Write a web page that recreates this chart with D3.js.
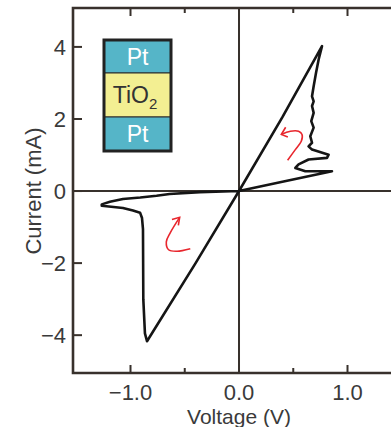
<!DOCTYPE html>
<html>
<head>
<meta charset="utf-8">
<script src="https://cdn.jsdelivr.net/npm/d3@7"></script>
<style>
  html, body { margin: 0; padding: 0; background: #fff; }
  svg { display: block; }
  text { font-family: "Liberation Sans", Arial, sans-serif; fill: #3a3a3a; }
</style>
</head>
<body>
<div id="chart"></div>
<script>
// I-V loop of a Pt/TiO2/Pt cell (voltage in V, current in mA)
var voltage = [0, -0.36, -0.64, -0.76, -0.91, -1.07, -1.19, -1.265,
  -1.265, -1.07, -0.977, -0.912, -0.894, -0.885, -0.882, -0.867, -0.848,
  -0.4, 0, 0.4, 0.765,
  0.734, 0.71, 0.688, 0.673, 0.688, 0.673, 0.688, 0.666, 0.688, 0.657, 0.673, 0.641, 0.673,
  0.826, 0.811, 0.641, 0.549, 0.519, 0.611, 0.857, 0.4, 0];
var current = [0, -0.03, -0.08, -0.13, -0.18, -0.22, -0.30, -0.37,
  -0.41, -0.47, -0.54, -0.60, -0.75, -1.06, -3.0, -3.95, -4.17,
  -2.0, 0, 2.05, 4.02,
  3.65, 3.28, 2.91, 2.63, 2.49, 2.36, 2.17, 1.94, 1.76, 1.52, 1.34, 1.24, 1.15,
  1.01, 0.92, 0.875, 0.74, 0.64, 0.55, 0.55, 0.26, 0];

var xTicks = [-1.0, 0.0, 1.0];
var xMinor = [-0.5, 0.5];
var xTickLabels = ["\u22121.0", "0.0", "1.0"];
var yTicks = [4, 2, 0, -2, -4];
var yTickLabels = ["4", "2", "0", "\u22122", "\u22124"];

// hand-drawn red arrows (data units)
var arrowRightV = [0.448, 0.519, 0.574, 0.581, 0.549, 0.473, 0.39];
var arrowRightI = [0.855, 1.15, 1.38, 1.57, 1.66, 1.66, 1.57];
var arrowRightHeadV = [0.43, 0.39, 0.45];
var arrowRightHeadI = [1.77, 1.57, 1.50];
var arrowLeftV = [-0.449, -0.571, -0.649, -0.670, -0.634, -0.547];
var arrowLeftI = [-1.60, -1.67, -1.63, -1.41, -1.16, -0.73];
var arrowLeftHeadV = [-0.618, -0.547, -0.559];
var arrowLeftHeadI = [-0.79, -0.73, -0.95];

var layers = ["Pt", "TiO", "Pt"];
var layerColors = ["#55b5c8", "#f3ef92", "#55b5c8"];

var width = 391, height = 427;
var x = d3.scaleLinear().domain([-1.53, 1.5]).range([73, 73 + 3.03 * 108.5]);
var y = d3.scaleLinear().domain([-5.05, 5.08]).range([373, 8]);

var svg = d3.select("#chart").append("svg")
  .attr("width", width).attr("height", height);

var frameColor = "#38312c";

// zero lines
svg.append("line").attr("x1", x(0)).attr("x2", x(0))
  .attr("y1", y(5.08)).attr("y2", y(-5.05))
  .attr("stroke", frameColor).attr("stroke-width", 2);
svg.append("line").attr("x1", x(-1.53)).attr("x2", width)
  .attr("y1", y(0)).attr("y2", y(0))
  .attr("stroke", frameColor).attr("stroke-width", 2);

// frame: left, top, bottom
var frame = d3.path();
frame.moveTo(width, y(5.08));
frame.lineTo(x(-1.53), y(5.08));
frame.lineTo(x(-1.53), y(-5.05));
frame.lineTo(width, y(-5.05));
svg.append("path").attr("d", frame.toString())
  .attr("fill", "none").attr("stroke", frameColor).attr("stroke-width", 2.6);

// ticks (inward)
var tickG = svg.append("g").attr("stroke", frameColor).attr("stroke-width", 2);
xTicks.concat(xMinor).forEach(function(v) {
  var len = xTicks.indexOf(v) >= 0 ? 8 : 5;
  tickG.append("line").attr("x1", x(v)).attr("x2", x(v))
    .attr("y1", y(-5.05)).attr("y2", y(-5.05) - len);
  tickG.append("line").attr("x1", x(v)).attr("x2", x(v))
    .attr("y1", y(5.08)).attr("y2", y(5.08) + len);
});
yTicks.forEach(function(v) {
  tickG.append("line").attr("x1", x(-1.53)).attr("x2", x(-1.53) + 9)
    .attr("y1", y(v)).attr("y2", y(v));
});

// tick labels
svg.selectAll("text.xt").data(xTicks).enter().append("text")
  .attr("class", "xt")
  .attr("x", function(d) { return x(d); })
  .attr("y", 400)
  .attr("text-anchor", "middle")
  .attr("font-size", 22)
  .text(function(d, i) { return xTickLabels[i]; });
svg.selectAll("text.yt").data(yTicks).enter().append("text")
  .attr("class", "yt")
  .attr("x", 66)
  .attr("y", function(d) { return y(d) + 8; })
  .attr("text-anchor", "end")
  .attr("font-size", 22)
  .text(function(d, i) { return yTickLabels[i]; });

// axis titles
svg.append("text").attr("x", x(0)).attr("y", 424)
  .attr("text-anchor", "middle").attr("font-size", 21)
  .text("Voltage (V)");
svg.append("text")
  .attr("transform", "translate(41," + y(0) + ") rotate(-90)")
  .attr("text-anchor", "middle").attr("font-size", 22)
  .text("Current (mA)");

// I-V curve
var pts = voltage.map(function(v, i) { return [v, current[i]]; });
var line = d3.line()
  .x(function(d) { return x(d[0]); })
  .y(function(d) { return y(d[1]); });
svg.append("path").datum(pts)
  .attr("d", line)
  .attr("fill", "none")
  .attr("stroke", "#151515")
  .attr("stroke-width", 2.6)
  .attr("stroke-linejoin", "round");

// red arrows
var curvy = d3.line()
  .x(function(d) { return x(d[0]); })
  .y(function(d) { return y(d[1]); })
  .curve(d3.curveCatmullRom);
function arrow(vs, is, hv, hi) {
  svg.append("path").datum(vs.map(function(v, i) { return [v, is[i]]; }))
    .attr("d", curvy).attr("fill", "none")
    .attr("stroke", "#e8262d").attr("stroke-width", 1.6);
  svg.append("path").datum(hv.map(function(v, i) { return [v, hi[i]]; }))
    .attr("d", line).attr("fill", "none")
    .attr("stroke", "#e8262d").attr("stroke-width", 1.6);
}
arrow(arrowRightV, arrowRightI, arrowRightHeadV, arrowRightHeadI);
arrow(arrowLeftV, arrowLeftI, arrowLeftHeadV, arrowLeftHeadI);

// device stack inset
var inset = svg.append("g").attr("transform", "translate(104,40)");
var layerH = [33, 44, 34];
var yOff = 0;
layers.forEach(function(name, i) {
  inset.append("rect").attr("x", 0).attr("y", yOff)
    .attr("width", 67).attr("height", layerH[i])
    .attr("fill", layerColors[i])
    .attr("stroke", "#2a2a2a").attr("stroke-width", 1);
  var t = inset.append("text")
    .attr("x", name === "TiO" ? 31 : 33.5).attr("y", yOff + layerH[i] / 2 + 8)
    .attr("text-anchor", "middle")
    .attr("font-size", 23)
    .style("fill", name === "Pt" ? "#ffffff" : "#333");
  t.append("tspan").text(name);
  if (name === "TiO") {
    t.append("tspan").attr("font-size", 15).attr("dy", 6).text("2");
  }
  yOff += layerH[i];
});
inset.append("rect").attr("x", 0).attr("y", 0)
  .attr("width", 67).attr("height", yOff)
  .attr("fill", "none").attr("stroke", "#222").attr("stroke-width", 3);
</script>
</body>
</html>
